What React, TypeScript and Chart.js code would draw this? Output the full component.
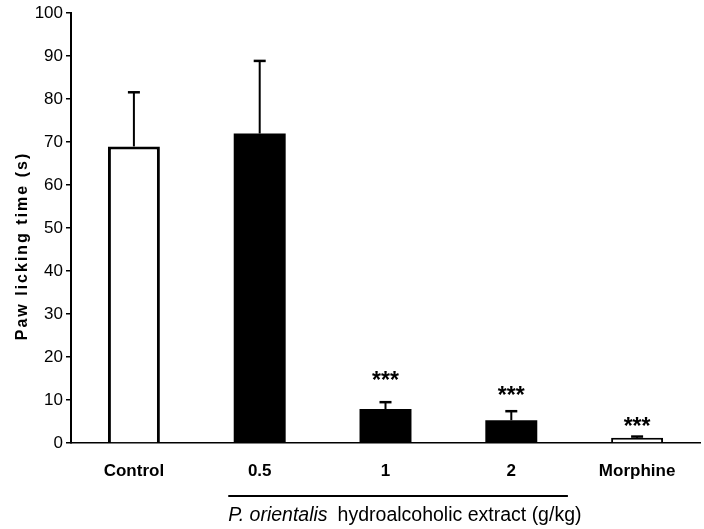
import React, { useEffect, useRef } from 'react';
import { Chart, registerables } from 'chart.js';

Chart.register(...registerables);

const categories = ['Control', '0.5', '1', '2', 'Morphine'];
const means = [69, 72, 7.9, 5.3, 1.2];
const errors = [12.6, 16.9, 1.6, 2.1, 0.3];
const fills = ['#ffffff', '#000000', '#000000', '#000000', '#ffffff'];
const significance = ['', '', '***', '***', '***'];
const starLevels = [0, 0, 15.8, 12.3, 4.9];
const yMin = 0;
const yMax = 100;
const yStep = 10;
const yTitle = 'Paw licking time (s)';
const groupItalic = 'P. orientalis';
const groupRest = 'hydroalcoholic extract (g/kg)';
const groupFrom = 1;
const groupTo = 3;

const FAMILY = "'Liberation Sans', Arial, sans-serif";

const annotations = {
  id: 'annotations',
  afterDatasetsDraw(chart: any) {
    const { ctx } = chart;
    const xs = chart.scales.x;
    const ys = chart.scales.y;
    ctx.save();
    ctx.strokeStyle = '#000';
    ctx.fillStyle = '#000';
    means.forEach((m, i) => {
      const x = xs.getPixelForValue(i);
      const y0 = ys.getPixelForValue(m);
      const y1 = ys.getPixelForValue(m + errors[i]);
      ctx.lineWidth = 2;
      ctx.beginPath();
      ctx.moveTo(x, y0);
      ctx.lineTo(x, y1);
      ctx.stroke();
      ctx.lineWidth = 2.5;
      ctx.beginPath();
      ctx.moveTo(x - 6, y1);
      ctx.lineTo(x + 6, y1);
      ctx.stroke();
      if (significance[i]) {
        ctx.font = `bold 23px ${FAMILY}`;
        ctx.textAlign = 'center';
        ctx.textBaseline = 'alphabetic';
        const mt = ctx.measureText(significance[i]);
        const yc = ys.getPixelForValue(starLevels[i]);
        const base = yc + (mt.actualBoundingBoxAscent - mt.actualBoundingBoxDescent) / 2;
        ctx.fillText(significance[i], x, base);
      }
    });
    ctx.restore();
  },
  afterDraw(chart: any) {
    const { ctx } = chart;
    const xs = chart.scales.x;
    const cw = xs.getPixelForValue(1) - xs.getPixelForValue(0);
    const x0 = xs.getPixelForValue(groupFrom) - 0.25 * cw;
    const x1 = xs.getPixelForValue(groupTo) + 0.45 * cw;
    ctx.save();
    ctx.strokeStyle = '#000';
    ctx.fillStyle = '#000';
    ctx.lineWidth = 2;
    ctx.beginPath();
    ctx.moveTo(x0, 496);
    ctx.lineTo(x1, 496);
    ctx.stroke();
    ctx.textAlign = 'left';
    ctx.textBaseline = 'alphabetic';
    ctx.font = `italic 19.5px ${FAMILY}`;
    ctx.fillText(groupItalic, x0, 521);
    const w = ctx.measureText(groupItalic).width;
    ctx.font = `19.5px ${FAMILY}`;
    ctx.fillText(groupRest, x0 + w + 10, 521);

    ctx.translate(27, 246);
    ctx.rotate(-Math.PI / 2);
    ctx.font = `bold 16px ${FAMILY}`;
    (ctx as any).letterSpacing = '2px';
    ctx.textAlign = 'center';
    ctx.fillText(yTitle, 0, 0);
    ctx.restore();
  },
};

export default function App() {
  const ref = useRef<HTMLCanvasElement>(null);
  useEffect(() => {
    if (!ref.current) return;
    const chart = new Chart(ref.current, {
      type: 'bar',
      data: {
        labels: categories,
        datasets: [
          {
            data: means,
            backgroundColor: fills,
            borderColor: '#000',
            borderWidth: [3, 0, 0, 0, 2],
            borderSkipped: 'start',
            barPercentage: 0.413,
            categoryPercentage: 1,
          },
        ],
      },
      options: {
        responsive: false,
        animation: false,
        devicePixelRatio: 1,
        layout: { padding: { top: 12, right: 4, left: 0, bottom: 0 } },
        plugins: { legend: { display: false }, tooltip: { enabled: false } },
        scales: {
          x: {
            grid: { display: false, drawTicks: false },
            border: { display: true, color: '#000', width: 1.5 },
            ticks: {
              color: '#000',
              font: { family: FAMILY, size: 17, weight: 'bold' },
              padding: 18,
            },
            afterFit: (s: any) => {
              s.height = 86;
            },
          },
          y: {
            min: yMin,
            max: yMax,
            ticks: {
              stepSize: yStep,
              color: '#000',
              font: { family: FAMILY, size: 17 },
              padding: 3,
            },
            grid: {
              drawOnChartArea: false,
              drawTicks: true,
              tickLength: 5,
              color: '#000',
              lineWidth: 1.5,
            },
            border: { display: true, color: '#000', width: 2 },
            afterFit: (s: any) => {
              s.width = 71;
            },
          },
        },
      },
      plugins: [annotations],
    } as any);
    return () => chart.destroy();
  }, []);
  return (
    <div style={{ position: 'absolute', left: 0, top: 0, width: 704, height: 529, background: '#fff' }}>
      <canvas ref={ref} width={704} height={529} style={{ width: 704, height: 529, display: 'block' }} />
    </div>
  );
}
